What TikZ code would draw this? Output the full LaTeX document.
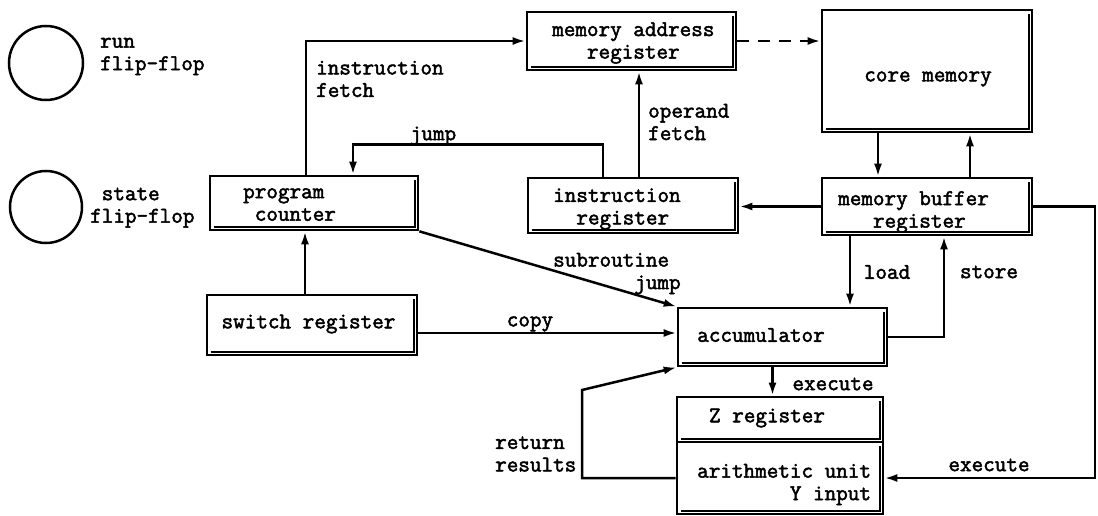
\documentclass[tikz,border=0pt]{standalone}
\usepackage{fontspec}
\newfontfamily\typewriter{Latin Modern Mono}[FakeBold=2.2]
\usetikzlibrary{arrows.meta}
\begin{document}
\begin{tikzpicture}[x=1pt,y=-1pt,
  every node/.style={font=\typewriter\fontsize{22.5}{22.5}\selectfont, inner sep=0pt},
  reg/.style={draw, line width=2.7pt, rectangle},
  wire/.style={line width=2.5pt},
  arr/.style={wire, -{Latex[length=13pt,width=8pt]}},
  txt/.style={yshift=-2pt},
  lbl/.style={txt, anchor=west, align=left}]
\useasboundingbox (0,0) rectangle (1098,516);

% flip-flops
\node[draw, circle, line width=2.5pt, minimum size=74pt] (run) at (46,63) {};
\node[draw, circle, line width=2.5pt, minimum size=72pt] (state) at (46,207) {};
\node[lbl] (trun) at (100,54.5) {run\\flip-flop};
\node[lbl] (tstate) at (90,205) {\phantom{f}state\\flip-flop};

% registers and memory
\node[reg, minimum width=208pt, minimum height=54pt] (pc)  at (314,203) {};
\node[reg, minimum width=209pt, minimum height=58pt] (mar) at (631.5,41) {};
\node[reg, minimum width=210pt, minimum height=55pt] (ir)  at (633,205.5) {};
\node[reg, minimum width=210pt, minimum height=122pt] (cm) at (927,71) {};
\node[reg, minimum width=210pt, minimum height=57pt] (mbr) at (927,206.5) {};
\node[reg, minimum width=210pt, minimum height=60pt] (sw)  at (312,325) {};
\node[reg, minimum width=209pt, minimum height=58pt] (acc) at (782.5,337) {};
\node[reg, minimum width=206pt, minimum height=45pt] (zr)  at (780,419.5) {};
\node[reg, minimum width=206pt, minimum height=72pt] (au)  at (780,478) {};

% inner shadow line along bottom and right edges
\foreach \n in {pc,mar,ir,cm,mbr,sw,acc,zr,au}
  \draw[line width=1.6pt] ([shift={(5pt,4.5pt)}]\n.south west) -- ([shift={(-4.5pt,4.5pt)}]\n.south east)
        -- ([shift={(-4.5pt,-5pt)}]\n.north east);

% box texts
\node[lbl] (tmar) at (552,41) {memory address\\\phantom{mem}register};
\node[lbl] (tpc)  at (243,205) {program\\\phantom{p}counter};
\node[lbl] (tir)  at (553,207) {instruction\\\phantom{in}register};
\node[txt] (tcm) at (928,77) {core memory};
\node[lbl] (tmbr) at (838,210) {memory buffer\\\phantom{mem}register};
\node[txt] (tsw) at (308.5,322) {switch register};
\node[txt] (tacc) at (761,333) {accumulator};
\node[txt] (tzr) at (767,416) {Z register};
\node[lbl] (tau) at (697,482.5) {arithmetic unit\\\phantom{arithmet}Y input};

% connector anchor points
\coordinate (pcup)  at ([xshift=-8pt]pc.north);
\coordinate (irj)   at ([xshift=-30pt]ir.north);
\coordinate (jtop)  at ([xshift=39pt,yshift=30pt]pc.north);
\coordinate (pcj)   at ([xshift=39pt]pc.north);
\coordinate (irop)  at ([xshift=6pt]ir.north);
\coordinate (cmdn)  at ([xshift=-49pt]cm.south);
\coordinate (mbrup) at ([xshift=43pt]mbr.north);
\coordinate (ldsrc) at ([xshift=-77pt]mbr.south);
\coordinate (stdst) at ([xshift=17pt]mbr.south);
\coordinate (swout) at ([yshift=-8pt]sw.east);
\coordinate (swup)  at ([xshift=-7pt]sw.north);
\coordinate (accdn) at ([xshift=-10pt]acc.south);
\coordinate (rside) at (1095,478);
\coordinate (retc)  at (582,478);
\coordinate (retu)  at (582,390);

% connectors
\draw[arr] (pcup) |- (mar.west);
\draw[arr] (irj) |- (jtop) -- (pcj);
\draw[arr] (irop) -- (irop |- mar.south);
\draw[arr, dash pattern=on 12pt off 9pt] (mar.east) -- (cm.west |- mar.east);
\draw[arr] (cmdn) -- (cmdn |- mbr.north);
\draw[arr] (mbrup) -- (mbrup |- cm.south);
\draw[arr] (mbr.west) -- (mbr.west -| ir.east);
\draw[arr] (mbr.east) -| (rside) -- (au.east);
\draw[arr] (ldsrc) -- (ldsrc |- acc.north);
\draw[arr] (acc.east) -| (stdst);
\draw[arr] (pc.south east) -- (acc.north west);
\draw[arr] (swout) -- (swout -| acc.west);
\draw[arr] (swup) -- (swup |- pc.south);
\draw[arr] (accdn) -- (accdn |- zr.north);
\draw[arr] (au.west) -- (retc) -- (retu) -- (acc.south west);

% connector labels
\node[lbl] (tif) at (316,77) {instruction\\fetch};
\node[txt] (tjump) at (433,134) {jump};
\node[lbl] (tof) at (648,120) {operand\\fetch};
\node[lbl] (tsub) at (553,271.5) {subroutine\\\phantom{subrout}jump};
\node[txt] (tcopy) at (530,322) {copy};
\node[txt] (tload) at (887,270) {load};
\node[txt] (tstore) at (989,270) {store};
\node[txt] (texe1) at (833,382) {execute};
\node[txt] (texe2) at (989,463) {execute};
\node[lbl] (tret) at (495,452) {return\\results};
\end{tikzpicture}
\end{document}
